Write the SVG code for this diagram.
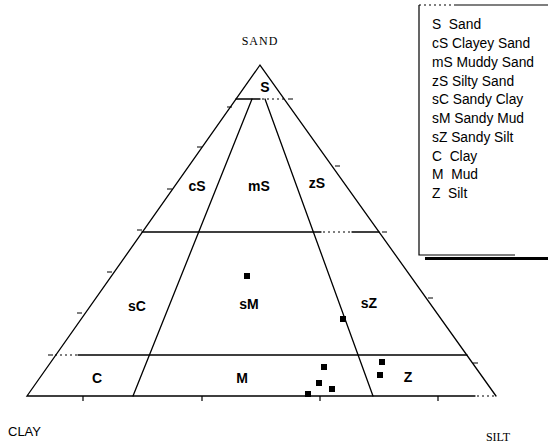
<svg xmlns="http://www.w3.org/2000/svg" width="548" height="443" viewBox="0 0 548 443">
<style>
.ln{stroke:#000;stroke-width:1.3;fill:none;stroke-linecap:round}
.dot{stroke:#000;stroke-width:1.2;fill:none;stroke-dasharray:2 3}
.tk{stroke:#000;stroke-width:1.2;fill:none}
.lab{font-family:"Liberation Sans",Arial,sans-serif;font-size:14px;font-weight:bold;text-anchor:middle;fill:#000}
.leg{font-family:"Liberation Sans",Arial,sans-serif;font-size:13.8px;fill:#000}
.ser{font-family:"Liberation Serif","Times New Roman",serif;font-size:12px;fill:#000;text-anchor:middle}
.pt{fill:#000}
</style>
<rect width="548" height="443" fill="#fff"/>
<g id="connectors">
<path class="ln" d="M475,396 L27,396 L260,65 L496,396"/>
<line class="dot" x1="477" y1="396" x2="496" y2="396"/>
<line class="ln" x1="236" y1="99" x2="260" y2="99"/>
<line class="dot" x1="262" y1="99" x2="284" y2="99"/>
<line class="ln" x1="142" y1="232" x2="321" y2="232"/>
<line class="dot" x1="323" y1="232" x2="352" y2="232"/>
<line class="ln" x1="352" y1="232" x2="379" y2="232"/>
<line class="dot" x1="55" y1="355" x2="78" y2="355"/>
<line class="ln" x1="78" y1="355" x2="467" y2="355"/>
<line class="ln" x1="252" y1="99" x2="133" y2="396"/>
<line class="ln" x1="265" y1="99" x2="373" y2="396"/>
<g class="tk">
<path d="M232,107h-5M202,147h-5M172,189h-5M142,230h-5M112,272h-5M82,313h-5M53,355h-5"/>
<path d="M288,99h5M335,166h5M382,232h5M428,298h5M473,363h5"/>
<path d="M83,396v5M202,396v5M320,396v5M438,396v5"/>
</g>
</g>
<g id="labels">
<text class="lab" x="265" y="92">S</text>
<text class="lab" x="197" y="191">cS</text>
<text class="lab" x="259" y="191">mS</text>
<text class="lab" x="317" y="188">zS</text>
<text class="lab" x="137" y="311">sC</text>
<text class="lab" x="249" y="309">sM</text>
<text class="lab" x="369" y="308">sZ</text>
<text class="lab" x="97" y="383">C</text>
<text class="lab" x="242" y="383">M</text>
<text class="lab" x="408" y="382">Z</text>
</g>
<g id="points">
<rect class="pt" x="244" y="273" width="6" height="6"/>
<rect class="pt" x="340" y="316" width="6" height="6"/>
<rect class="pt" x="321" y="364" width="6" height="6"/>
<rect class="pt" x="316" y="380" width="6" height="6"/>
<rect class="pt" x="329" y="386" width="6" height="6"/>
<rect class="pt" x="305" y="391" width="6" height="6"/>
<rect class="pt" x="379" y="359" width="6" height="6"/>
<rect class="pt" x="377" y="372" width="6" height="6"/>
</g>
<g id="axes">
<text class="ser" x="260" y="45" font-size="13" letter-spacing="1">SAND</text>
<text x="8" y="436" style="font-family:'Liberation Sans',Arial,sans-serif;font-size:13px">CLAY</text>
<text class="ser" x="498" y="441">SILT</text>
</g>
<g id="legend">
<path class="dot" d="M419,5 H455"/>
<path class="tk" d="M455,5 H548 M419,5 V255 H515"/>
<rect x="425" y="257" width="123" height="3" fill="#000"/>
<text class="leg" x="432" y="29">S&#160; Sand</text>
<text class="leg" x="432" y="48">cS Clayey Sand</text>
<text class="leg" x="432" y="67">mS Muddy Sand</text>
<text class="leg" x="432" y="86">zS Silty Sand</text>
<text class="leg" x="432" y="104">sC Sandy Clay</text>
<text class="leg" x="432" y="123">sM Sandy Mud</text>
<text class="leg" x="432" y="142">sZ Sandy Silt</text>
<text class="leg" x="432" y="161">C&#160; Clay</text>
<text class="leg" x="432" y="179">M&#160; Mud</text>
<text class="leg" x="432" y="198">Z&#160; Silt</text>
</g>
</svg>
